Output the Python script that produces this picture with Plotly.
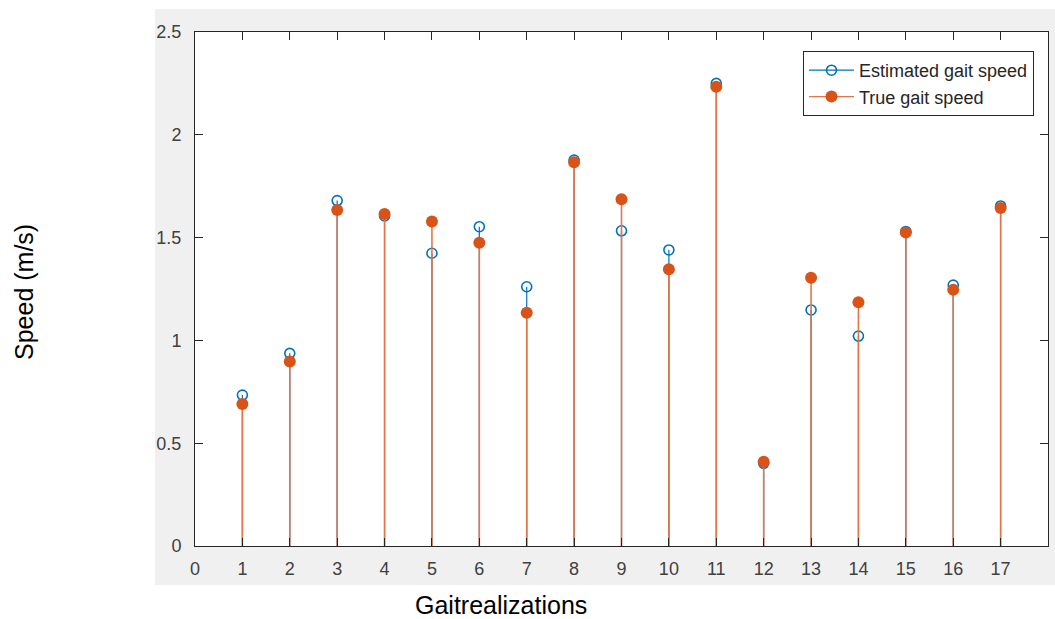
import plotly.graph_objects as go

realizations = list(range(1, 18))
estimated_speed = [0.734, 0.937, 1.680, 1.605, 1.424, 1.553, 1.261, 1.877, 1.533,
                   1.440, 2.250, 0.402, 1.148, 1.021, 1.530, 1.269, 1.654]
true_speed = [0.691, 0.897, 1.634, 1.615, 1.578, 1.475, 1.135, 1.866, 1.686,
              1.346, 2.234, 0.410, 1.305, 1.185, 1.525, 1.246, 1.644]
x_ticks = list(range(0, 18))
y_ticks = [0, 0.5, 1, 1.5, 2, 2.5]
y_tick_labels = ["0", "0.5", "1", "1.5", "2", "2.5"]

BLUE = "#0072BD"
ORANGE = "#D95319"
ORANGE_STEM = "#E2764A"
W, H = 1055, 619
L, R, T, B = 195, 1048, 32, 546


def stems(xs, ys):
    sx, sy = [], []
    for x, y in zip(xs, ys):
        sx += [x, x, None]
        sy += [0, y, None]
    return sx, sy


fig = go.Figure()
ex, ey = stems(realizations, estimated_speed)
tx, ty = stems(realizations, true_speed)

fig.add_trace(go.Scatter(x=ex, y=ey, mode="lines", line=dict(color=BLUE, width=1.2),
                         showlegend=False, hoverinfo="skip"))
fig.add_trace(go.Scatter(x=realizations, y=estimated_speed, mode="markers",
                         marker=dict(symbol="circle-open", size=10, color=BLUE,
                                     line=dict(width=1.6, color=BLUE)),
                         showlegend=False))
fig.add_trace(go.Scatter(x=tx, y=ty, mode="lines", line=dict(color=ORANGE_STEM, width=1.6),
                         showlegend=False, hoverinfo="skip"))
fig.add_trace(go.Scatter(x=realizations, y=true_speed, mode="markers",
                         marker=dict(symbol="circle", size=12, color=ORANGE),
                         showlegend=False))
# legend entries
fig.add_trace(go.Scatter(x=[None], y=[None], mode="lines+markers", name="Estimated gait speed",
                         line=dict(color=BLUE, width=1.3),
                         marker=dict(symbol="circle-open", size=10, color=BLUE,
                                     line=dict(width=1.6, color=BLUE))))
fig.add_trace(go.Scatter(x=[None], y=[None], mode="lines+markers", name="True gait speed",
                         line=dict(color=ORANGE_STEM, width=1.3),
                         marker=dict(symbol="circle", size=12, color=ORANGE)))

pw, ph = R - L, B - T


def px(xp):
    return (xp - L) / pw


def py(yp):
    return (B - yp) / ph


axis_common = dict(showline=True, linecolor="#262626", linewidth=1, mirror="allticks",
                   ticks="inside", ticklen=8, tickcolor="#262626", tickwidth=1,
                   showgrid=False, zeroline=False,
                   tickfont=dict(family="Liberation Sans, Arial", size=18, color="#404040"))

fig.update_layout(
    width=W, height=H,
    margin=dict(l=L, r=W - R, t=T, b=H - B, pad=0),
    paper_bgcolor="white", plot_bgcolor="white",
    xaxis=dict(range=[0, 18], tickvals=x_ticks, ticklabelstandoff=6, **axis_common),
    yaxis=dict(range=[0, 2.5], tickvals=y_ticks, ticktext=y_tick_labels,
               ticklabelstandoff=9, **axis_common),
    legend=dict(x=px(1034), y=py(51), xanchor="right", yanchor="top",
                bgcolor="white", bordercolor="#262626", borderwidth=1,
                font=dict(family="Liberation Sans, Arial", size=18, color="#262626"),
                itemwidth=45, tracegroupgap=0),
    shapes=[
        dict(type="rect", xref="paper", yref="paper",
             x0=px(155), x1=px(1060), y0=py(585), y1=py(9),
             fillcolor="#f0f0f0", line=dict(width=0), layer="below"),
        dict(type="rect", xref="paper", yref="paper",
             x0=0, x1=1, y0=0, y1=1,
             fillcolor="white", line=dict(width=0), layer="below"),
    ],
    annotations=[
        dict(text="Gaitrealizations", xref="paper", yref="paper", x=px(501), y=py(605),
             xanchor="center", yanchor="middle", showarrow=False,
             font=dict(family="Liberation Sans, Arial", size=25, color="black")),
        dict(text="Speed (m/s)", xref="paper", yref="paper", x=px(24), y=py(292),
             xanchor="center", yanchor="middle", showarrow=False, textangle=-90,
             font=dict(family="Liberation Sans, Arial", size=25, color="black")),
    ],
)

fig.write_html("out.html", config={"displayModeBar": False},
               post_script="document.body.style.margin='0px';")
